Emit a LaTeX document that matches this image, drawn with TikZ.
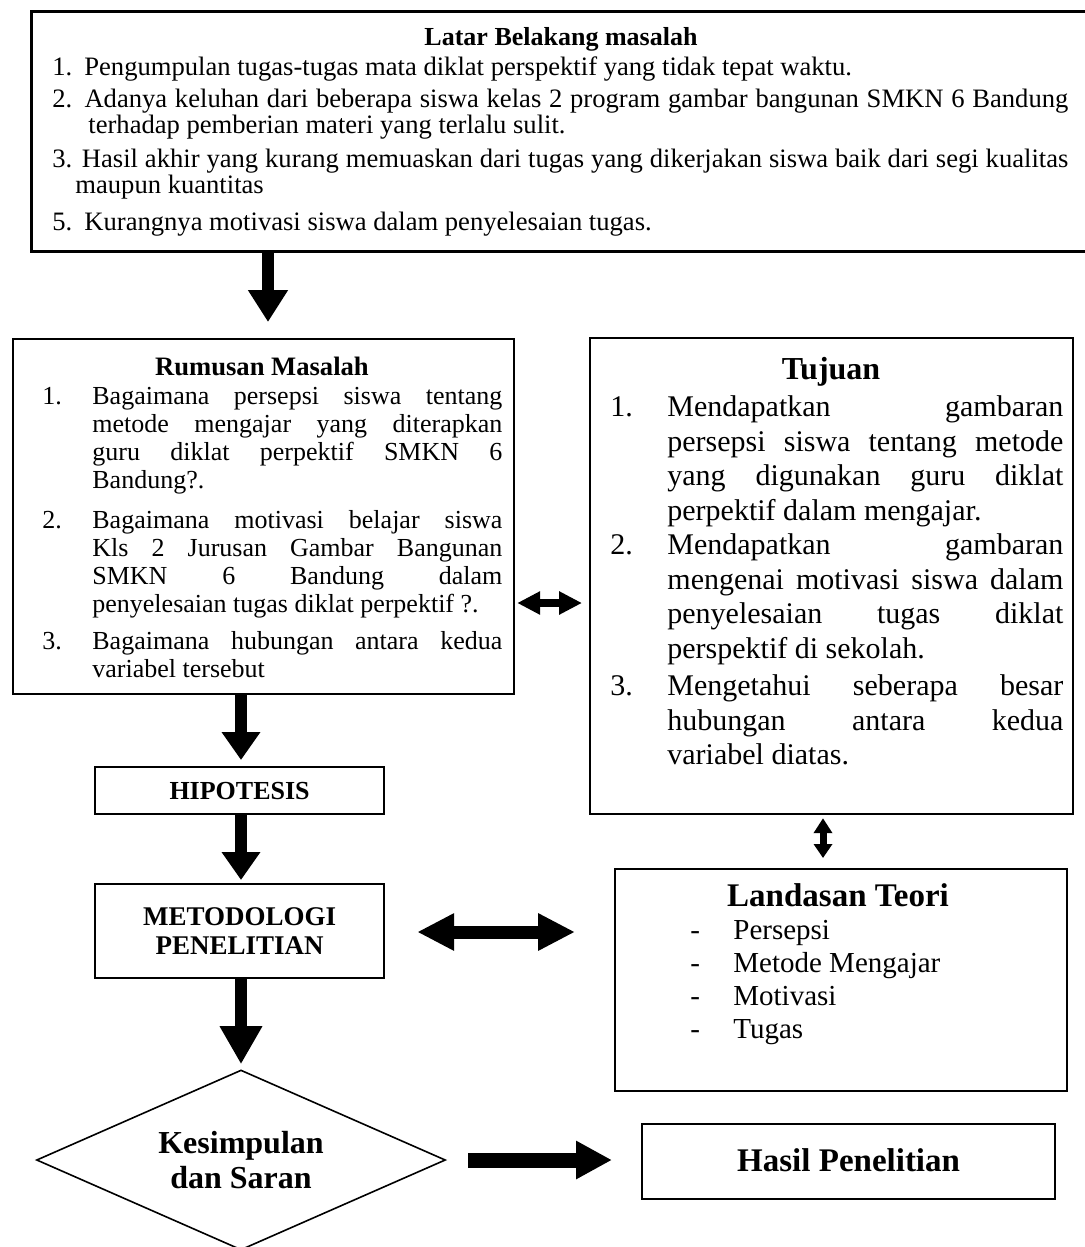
\documentclass[tikz,border=0pt]{standalone}
\usepackage{fontspec}
\setmainfont{Liberation Serif}
\usetikzlibrary{arrows.meta,shapes.geometric}
\newcommand{\fs}[2]{\fontsize{#1}{#2}\selectfont}
\newcommand{\hitem}[3]{\par\noindent\hangindent=#1\hangafter=1\makebox[#1][l]{#2}#3\par}
\begin{document}
\begin{tikzpicture}[x=0.5pt,y=-0.5pt,
  box/.style={draw, line width=1.1pt, inner sep=0pt, anchor=north west},
  body/.style={anchor=north west, inner sep=0pt},
  title/.style={anchor=base, inner sep=0pt}]
\useasboundingbox (0,0) rectangle (1084,1247);

% ---------------- boxes ----------------
\node[box, line width=1.5pt, minimum width=529pt, minimum height=120pt] (top) at (30,10) {};
\node[title, font=\bfseries\fs{13}{15}] (toptitle) at (561,46) {Latar Belakang masalah};
\node[body, align=left, font=\fs{13.3}{13}] (topbody) at (52,56) {%
\makebox[16pt][l]{1.}Pengumpulan tugas-tugas mata diklat perspektif yang tidak tepat waktu.\\[3pt]
\makebox[508pt][s]{2. Adanya keluhan dari beberapa siswa kelas 2 program gambar bangunan SMKN 6 Bandung}\\
\hspace*{18pt}terhadap pemberian materi yang terlalu sulit.\\[4pt]
\makebox[508pt][s]{3. Hasil akhir yang kurang memuaskan dari tugas yang dikerjakan siswa baik dari segi kualitas}\\
\hspace*{11.5pt}maupun kuantitas\\[5.5pt]
\makebox[16pt][l]{5.}Kurangnya motivasi siswa dalam penyelesaian tugas.};

\node[box, minimum width=250.5pt, minimum height=177.5pt] (rum) at (12,338) {};
\node[title, font=\bfseries\fs{13.3}{15}] (rumtitle) at (262,375) {Rumusan Masalah};
\node[body, text width=230pt, align=justify, font=\fs{13}{14}] (rumbody) at (42,376) {%
\hitem{25pt}{1.}{Bagaimana persepsi siswa tentang\linebreak metode mengajar yang diterapkan\linebreak guru diklat perpektif SMKN 6\linebreak Bandung?.}
\vspace{6pt}
\hitem{25pt}{2.}{Bagaimana motivasi belajar siswa\linebreak Kls 2 Jurusan Gambar Bangunan\linebreak SMKN 6 Bandung dalam\linebreak penyelesaian tugas diklat perpektif~?.}
\vspace{4.5pt}
\hitem{25pt}{3.}{Bagaimana hubungan antara kedua\linebreak variabel tersebut}};

\node[box, minimum width=241.5pt, minimum height=238pt] (tuj) at (589,337) {};
\node[title, font=\bfseries\fs{16}{18}] (tujtitle) at (831,379) {Tujuan};
\node[body, text width=226.5pt, align=justify, font=\fs{15}{17.25}] (tujbody) at (610,382) {%
\hitem{28.5pt}{1.}{Mendapatkan gambaran\linebreak persepsi siswa tentang metode\linebreak yang digunakan guru diklat\linebreak perpektif dalam mengajar.}
\hitem{28.5pt}{2.}{Mendapatkan gambaran\linebreak mengenai motivasi siswa dalam\linebreak penyelesaian tugas diklat\linebreak perspektif di sekolah.}
\vspace{1.5pt}
\hitem{28.5pt}{3.}{Mengetahui seberapa besar\linebreak hubungan antara kedua\linebreak variabel diatas.}};

\node[box, minimum width=144.5pt, minimum height=23.5pt, font=\bfseries\fs{13}{15}] (hip) at (94,766) {HIPOTESIS};
\node[box, minimum width=144.5pt, minimum height=47pt, align=center, font=\bfseries\fs{13.5}{14.5}] (met) at (94,883) {METODOLOGI\\PENELITIAN};

\node[box, minimum width=226pt, minimum height=111pt] (lan) at (614,868) {};
\node[title, font=\bfseries\fs{16.5}{18}] (lantitle) at (838,906) {Landasan Teori};
\node[body, align=left, font=\fs{14.5}{16.5}] (lanbody) at (690,920) {%
\makebox[21.5pt][l]{-}Persepsi\\
\makebox[21.5pt][l]{-}Metode Mengajar\\
\makebox[21.5pt][l]{-}Motivasi\\
\makebox[21.5pt][l]{-}Tugas};

\node[draw, diamond, shape aspect=2.27, minimum width=204.5pt, minimum height=90pt, inner sep=0pt, line width=0.8pt, align=center, font=\bfseries\fs{16}{17.5}] (kes) at (241,1160) {Kesimpulan\\dan Saran};
\node[box, minimum width=206.5pt, minimum height=37.5pt, font=\bfseries\fs{16.5}{18}] (has) at (641,1123) {\raisebox{1.5pt}{Hasil Penelitian}};

% ---------------- connectors ----------------
\coordinate (xa) at (268,0);
\coordinate (xb) at (241,0);
\coordinate (xc) at (823,0);
\coordinate (ya) at (0,603);
\coordinate (yb) at (0,932);

\draw[line width=6pt, -{Triangle[width=19pt,length=16pt]}, shorten >=8pt] (top.south -| xa) -- (rum.north -| xa);
\draw[line width=6pt, -{Triangle[width=18.5pt,length=14pt]}, shorten >=3pt] (rum.south -| xb) -- (hip.north -| xb);
\draw[line width=6pt, -{Triangle[width=18.5pt,length=14pt]}, shorten >=1.5pt] (hip.south -| xb) -- (met.north -| xb);
\draw[line width=6pt, -{Triangle[width=20pt,length=19pt]}, shorten >=2.5pt] (met.south -| xb) -- (kes.north);
\draw[line width=4pt, {Triangle[width=11pt,length=11.5pt]}-{Triangle[width=11pt,length=11.5pt]}, shorten <=1pt, shorten >=3.5pt] (rum.east |- ya) -- (tuj.west |- ya);
\draw[line width=6.5pt, {Triangle[width=17.5pt,length=18.5pt]}-{Triangle[width=17.5pt,length=18.5pt]}, shorten <=16pt, shorten >=19.5pt] (met.east |- yb) -- (lan.west |- yb);
\draw[line width=3.5pt, {Triangle[width=9pt,length=7.5pt]}-{Triangle[width=9pt,length=7pt]}, shorten <=1.5pt, shorten >=5pt] (tuj.south -| xc) -- (lan.north -| xc);
\draw[line width=7.5pt, -{Triangle[width=18pt,length=18pt]}, shorten <=11pt, shorten >=14.5pt] (kes.east) -- (has.west |- kes.east);
\end{tikzpicture}
\end{document}
